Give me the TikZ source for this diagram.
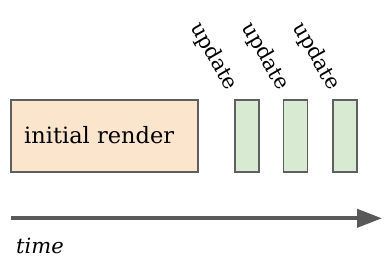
\documentclass[tikz,border=0pt]{standalone}
\usepackage{fontspec}
\setmainfont{DejaVu Serif}
\usetikzlibrary{arrows.meta}
\definecolor{lineGray}{HTML}{5F5F5F}
\definecolor{orangeFill}{HTML}{FCE5CD}
\definecolor{greenFill}{HTML}{D9EAD3}
\definecolor{axisGray}{HTML}{595959}
\tikzset{
  box/.style={draw=lineGray, line width=1.2pt, inner sep=0pt, outer sep=0pt},
  initbox/.style={box, fill=orangeFill, minimum width=187pt, minimum height=72pt},
  updbox/.style={box, fill=greenFill, minimum width=24pt, minimum height=72pt},
  updlabel/.style={font=\fontsize{21}{24}\selectfont, rotate=-60, inner sep=0pt},
  axis/.style={draw=axisGray, line width=4pt, -{Triangle[length=25pt, width=18pt]}},
}
\begin{document}
\begin{tikzpicture}[x=1pt, y=-1pt]
\useasboundingbox (0,0) rectangle (390,267);
\node[initbox] (init) at (104.5,136) {};
\node[anchor=base west, inner sep=0pt, font=\fontsize{22.5}{26}\selectfont] (initlabel) at (24,143.5) {initial render};
\node[updbox] (u1) at (247,136) {};
\node[updbox] (u2) at (295.7,136) {};
\node[updbox] (u3) at (345,136) {};
\node[updlabel] (l1) at (213.5,56.5) {update};
\node[updlabel] (l2) at (265,56.5) {update};
\node[updlabel] (l3) at (316,56.5) {update};
\coordinate (tstart) at (11,218.3);
\coordinate (tend) at (382,218.3);
\draw[axis] (tstart) -- (tend);
\node[anchor=base west, inner sep=0pt, font=\fontsize{21}{24}\selectfont\itshape] (time) at (16,253.5) {time};
\end{tikzpicture}
\end{document}
